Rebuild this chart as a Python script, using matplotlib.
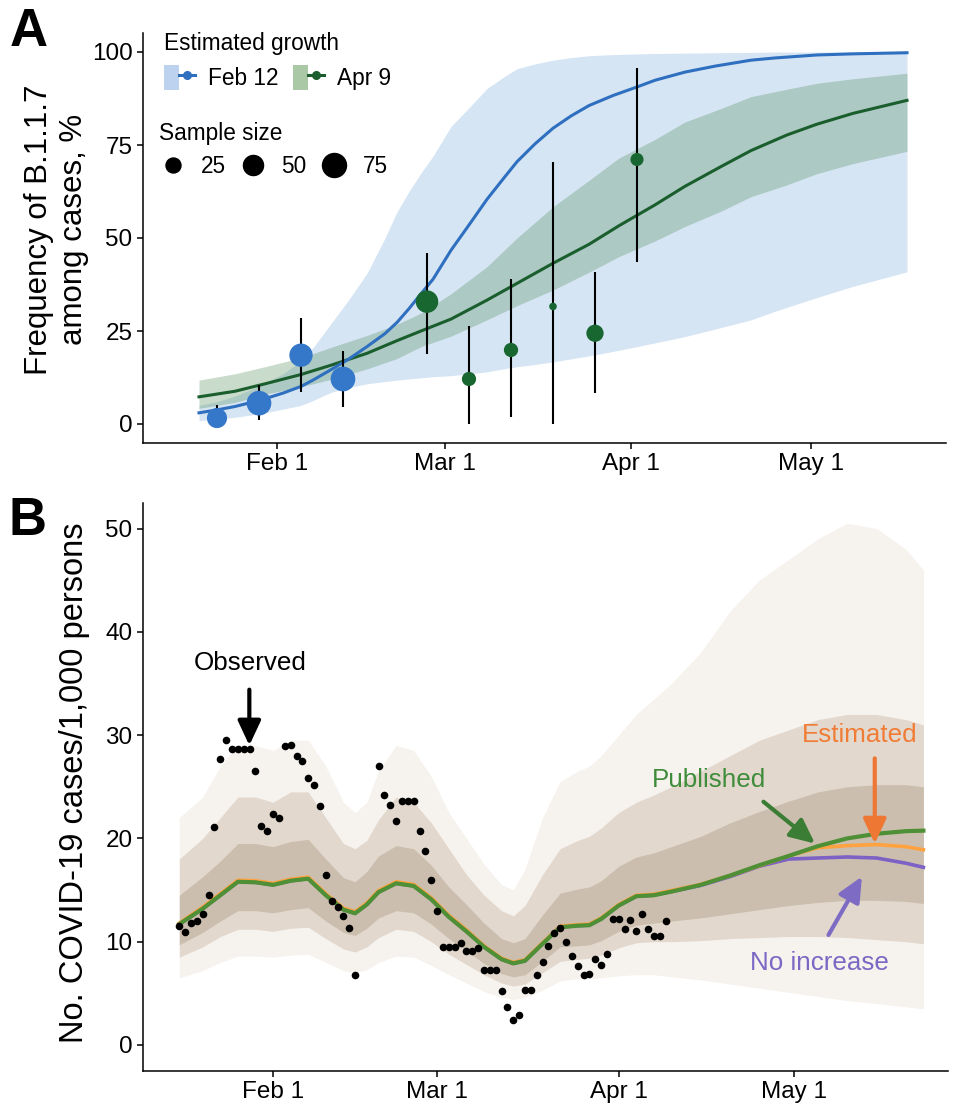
import matplotlib
matplotlib.use("Agg")
import matplotlib.pyplot as plt
from matplotlib.patches import Patch
from matplotlib.lines import Line2D
from matplotlib.legend_handler import HandlerTuple

plt.rcParams['font.family'] = ['Liberation Sans', 'DejaVu Sans']

# days are day-of-year 2021 (Feb 1 = 32)
tick_days = [32, 60, 91, 121]
tick_labels = ['Feb 1', 'Mar 1', 'Apr 1', 'May 1']

# ---------- panel A: frequency of B.1.1.7 ----------
feb12_days = [19, 22, 25, 28, 30, 33, 36, 38, 41, 44, 47, 50, 52, 54, 56, 58, 61, 64,
              67, 70, 72, 75, 78, 81, 84, 88, 92, 95, 100, 105, 111, 115, 122, 128, 137]
feb12_mid = [3.0, 3.8, 4.7, 5.9, 6.8, 8.3, 10.1, 11.8, 14.6, 17.5, 20.8, 24.3, 27.3, 31.0, 35.0, 38.9, 46.7, 53.5,
             60.4, 66.5, 70.5, 75.3, 79.5, 82.8, 85.6, 88.3, 90.6, 92.4, 94.6, 96.2, 97.8, 98.4, 99.2, 99.5, 99.8]
feb12_lo = [0.9, 1.3, 1.8, 2.5, 3.0, 4.0, 5.0, 6.3, 8.5, 9.8, 10.8, 11.4, 11.8, 12.1, 12.4, 12.7, 13.0, 13.5,
            14.0, 14.9, 15.4, 16.0, 16.7, 17.5, 18.3, 19.5, 20.8, 21.8, 23.5, 25.5, 28.0, 30.3, 34.0, 37.0, 40.9]
feb12_hi = [5.0, 6.0, 7.5, 9.5, 11.0, 13.5, 17.0, 20.5, 27.0, 33.5, 40.5, 50.0, 57.0, 62.5, 67.5, 72.0, 80.0, 85.0,
            90.2, 93.5, 95.5, 96.8, 97.8, 98.5, 99.0, 99.3, 99.5, 99.6, 99.7, 99.8, 99.9, 100, 100, 100, 100]

apr9_days = [19, 25, 30, 36, 41, 47, 52, 56, 61, 67, 72, 78, 84, 89, 95, 100, 106, 111, 117, 122, 128, 137]
apr9_mid = [7.3, 8.8, 10.8, 13.3, 15.8, 19.0, 22.4, 25.0, 28.2, 33.3, 37.8, 43.2, 48.3, 53.3, 58.9, 63.9, 69.2, 73.5, 77.7, 80.6, 83.5, 87.0]
apr9_lo = [4.2, 5.8, 8.0, 10.0, 12.0, 14.8, 17.6, 20.8, 23.6, 28.0, 31.8, 36.0, 40.8, 45.0, 49.2, 53.1, 57.2, 61.1, 64.3, 67.3, 70.0, 73.3]
apr9_hi = [11.8, 13.5, 15.4, 17.8, 20.6, 23.8, 26.8, 29.8, 35.0, 42.3, 50.0, 58.4, 65.5, 71.5, 76.5, 81.2, 84.8, 88.0, 90.0, 91.6, 92.8, 94.3]

obs_days = [22, 29, 36, 43, 57, 64, 71, 78, 85, 92]
obs_freq = [1.6, 5.6, 18.5, 12.1, 32.9, 12.1, 19.9, 31.6, 24.4, 71.1]
obs_lo = [0, 1.1, 8.7, 4.5, 18.8, 0, 2.0, 0, 8.3, 43.6]
obs_hi = [5.1, 10.5, 28.4, 19.7, 45.9, 26.3, 38.9, 70.5, 40.8, 95.6]
obs_n = [50, 80, 70, 80, 65, 22, 22, 4, 35, 18]
obs_group = ['Feb 12'] * 4 + ['Apr 9'] * 6

# ---------- panel B: cases per 1,000 ----------
case_days = list(range(16, 47)) + list(range(50, 100))
case_rate = [11.5, 10.9, 11.8, 12.0, 12.7, 14.5, 21.1, 27.7, 29.5, 28.65,
             28.65, 28.65, 28.65, 26.5, 21.2, 20.7, 22.4, 22.0, 28.9, 29.0,
             28.0, 27.5, 25.8, 25.2, 23.1, 16.5, 13.9, 13.4, 12.5, 11.3,
             6.8,
             27.0, 24.2, 23.2, 21.7, 23.65, 23.65, 23.65, 20.7, 18.8, 16.0,
             13.0, 9.5, 9.5, 9.45, 9.9, 9.1, 9.1, 9.35, 7.26, 7.26,
             7.26, 5.2, 3.7, 2.4, 2.9, 5.3, 5.3, 6.8, 8.0, 9.6,
             10.8, 11.3, 10.0, 8.6, 7.65, 6.8, 6.9, 8.3, 7.7, 8.8,
             12.2, 12.2, 11.2, 12.1, 11.0, 12.7, 11.2, 10.55, 10.55, 12.0]

sim_days = [16, 20, 23, 26, 29, 32, 35, 38, 41, 44,
            46, 48, 50, 53, 56, 59, 62, 65, 68, 71,
            73, 75, 78, 81, 84, 86, 88, 91, 94, 97,
            100, 105, 110, 115, 120, 125, 130, 135, 140, 143]
published = [11.7, 13.2, 14.5, 15.8, 15.75, 15.5, 15.9, 16.1, 14.5, 13.1,
             12.75, 13.6, 14.8, 15.65, 15.4, 14.1, 12.4, 11.0, 9.5, 8.3,
             7.9, 8.15, 9.8, 11.4, 11.55, 11.6, 12.2, 13.5, 14.4, 14.5,
             14.85, 15.5, 16.4, 17.4, 18.3, 19.25, 20.0, 20.45, 20.7, 20.75]
estimated = [11.8, 13.35, 14.65, 15.95, 15.9, 15.65, 16.05, 16.25, 14.65, 13.25,
             12.9, 13.75, 14.95, 15.8, 15.55, 14.25, 12.55, 11.15, 9.6, 8.4,
             8.0, 8.25, 9.9, 11.5, 11.65, 11.7, 12.3, 13.6, 14.5, 14.6,
             14.95, 15.55, 16.4, 17.35, 18.3, 19.1, 19.3, 19.4, 19.2, 18.9]
no_increase = [11.7, 13.2, 14.5, 15.8, 15.75, 15.5, 15.9, 16.1, 14.5, 13.1,
               12.75, 13.6, 14.8, 15.65, 15.4, 14.1, 12.4, 11.0, 9.5, 8.3,
               7.9, 8.15, 9.8, 11.4, 11.55, 11.6, 12.2, 13.5, 14.4, 14.5,
               14.85, 15.45, 16.3, 17.3, 18.0, 18.1, 18.2, 18.1, 17.6, 17.2]
# spread of the simulated trajectories: outer = faintest lines, inner = dense lines, core = darkest
sim_hi_outer = [22, 24, 27, 29, 29, 28.5, 29.5, 29.5, 27, 23.5,
                22.5, 23.5, 26.5, 29, 28.5, 26, 22.5, 20, 17.5, 15.5,
                15, 17, 22, 25.5, 26.5, 27, 28, 30, 32, 33.5,
                35, 38, 42, 45, 47, 49, 50.5, 50, 48, 46]
sim_hi_inner = [18, 20, 22, 24, 24, 23.5, 24.5, 24.5, 22, 19.5,
                19, 19.8, 21.8, 24, 23.5, 21.5, 19, 16.5, 14.5, 13,
                12.5, 13.5, 16.5, 19, 19.8, 20.2, 21, 22.5, 23.5, 24.2,
                25, 26.5, 28, 29.5, 30.5, 31.5, 32, 32, 31.5, 31]
sim_hi_core = [14.5, 16.3, 17.8, 19.5, 19.5, 19.2, 19.7, 19.9, 18, 16.2,
               15.8, 16.8, 18.3, 19.3, 19, 17.4, 15.3, 13.6, 11.8, 10.3,
               9.9, 10.3, 12.6, 14.7, 15.1, 15.3, 15.9, 17.3, 18.2, 18.6,
               19.2, 20.2, 21.5, 22.6, 23.6, 24.5, 25, 25.2, 25.2, 25]
sim_lo_core = [9.7, 10.9, 12, 13, 13, 12.8, 13.1, 13.3, 12, 10.9,
               10.6, 11.3, 12.3, 13, 12.8, 11.7, 10.3, 9.1, 7.9, 6.9,
               6.6, 6.8, 8.1, 9.5, 9.6, 9.7, 10.1, 11, 11.6, 11.8,
               12, 12.3, 12.7, 13.1, 13.5, 13.8, 14, 14, 13.9, 13.7]
sim_lo_inner = [8.5, 9.5, 10.5, 11.2, 11.2, 11, 11.3, 11.4, 10.3, 9.3,
                9, 9.5, 10.4, 11.2, 11, 10, 8.8, 7.8, 6.8, 6.0,
                5.7, 5.9, 7, 8.1, 8.3, 8.4, 8.7, 9.4, 9.9, 10,
                10, 10.1, 10.3, 10.4, 10.5, 10.5, 10.4, 10.2, 10, 9.8]
sim_lo_outer = [6.5, 7.2, 8, 8.6, 8.6, 8.5, 8.7, 8.8, 8, 7.2,
                7, 7.3, 8, 8.6, 8.5, 7.7, 6.8, 6, 5.2, 4.6,
                4.4, 4.6, 5.3, 6.2, 6.4, 6.4, 6.5, 6.7, 6.8, 6.8,
                6.6, 6.3, 5.9, 5.5, 5.1, 4.7, 4.3, 4.0, 3.7, 3.5]

W, H = 956, 1105
fig = plt.figure(figsize=(W / 100, H / 100), dpi=100)


def px_box(left, top, right, bottom):
    return [left / W, 1 - bottom / H, (right - left) / W, (bottom - top) / H]


def style(ax):
    for s in ['top', 'right']:
        ax.spines[s].set_visible(False)
    for s in ['left', 'bottom']:
        ax.spines[s].set_linewidth(1.1)
    ax.tick_params(length=4.5, width=1.1, labelsize=17.5, pad=3, colors='black')
    ax.set_xticks(tick_days)
    ax.set_xticklabels(tick_labels)


blue, blue_fill = '#2f6fbf', '#d6e5f4'
green, green_fill = '#1b5e2d', '#4d8a55'

# ---------- A ----------
axA = fig.add_axes(px_box(143, 33.4, 946, 442.6))
style(axA)
axA.fill_between(feb12_days, feb12_lo, feb12_hi, color=blue_fill, lw=0)
axA.fill_between(apr9_days, apr9_lo, apr9_hi, color=green_fill, alpha=0.3, lw=0)
axA.plot(apr9_days, apr9_mid, color=green, lw=2.2)
axA.plot(feb12_days, feb12_mid, color=blue, lw=2.2)
axA.vlines(obs_days, obs_lo, obs_hi, color='black', lw=1.5, zorder=3)
pt_colors = ['#3577c9' if g == 'Feb 12' else '#186630' for g in obs_group]
pt_sizes = [((2.7 + 2.46 * n ** 0.5) * 0.72) ** 2 for n in obs_n]
axA.scatter(obs_days, obs_freq, s=pt_sizes, c=pt_colors, lw=0, zorder=4)
axA.set_xlim(9.67, 143.5)
axA.set_ylim(-5, 105)
axA.set_yticks([0, 25, 50, 75, 100])
axA.set_ylabel('Frequency of B.1.1.7\namong cases, %', fontsize=22.5, linespacing=1.22)
axA.yaxis.label.set_va('center')
axA.yaxis.set_label_coords(-0.108, 0.52)

h_feb = (Patch(facecolor='#bcd2ee', edgecolor='none'),
         Line2D([], [], color=blue, lw=2.2, marker='o', markersize=5.5))
h_apr = (Patch(facecolor='#aac8a6', edgecolor='none'),
         Line2D([], [], color=green, lw=2.2, marker='o', markersize=5.5))
leg1 = axA.legend([h_feb, h_apr], ['Feb 12', 'Apr 9'], title='Estimated growth',
                  handler_map={tuple: HandlerTuple(ndivide=None)}, ncol=2,
                  loc='upper left', bbox_to_anchor=(0.026, 1.003), frameon=False,
                  fontsize=16.3, title_fontsize=16.3, alignment='left',
                  handlelength=1.37, handleheight=1.33, handletextpad=0.6,
                  columnspacing=0.6, labelspacing=0.45, borderpad=0, borderaxespad=0,
                  numpoints=1)
axA.add_artist(leg1)
size_handles = [Line2D([], [], ls='', marker='o', color='black',
                       markersize=(2.7 + 2.46 * n ** 0.5) * 0.72) for n in [25, 50, 75]]
axA.legend(size_handles, ['25', '50', '75'], title='Sample size', ncol=3,
           loc='upper left', bbox_to_anchor=(0.02, 0.784), frameon=False,
           fontsize=16.3, title_fontsize=16.3, alignment='left',
           handlelength=1.2, handletextpad=0.64, columnspacing=0.62,
           labelspacing=0.45, borderpad=0, borderaxespad=0, numpoints=1)

# ---------- B ----------
axB = fig.add_axes(px_box(143, 502.7, 948, 1070.8))
style(axB)
axB.fill_between(sim_days, sim_lo_outer, sim_hi_outer, color='#f6f2ee', lw=0)
axB.fill_between(sim_days, sim_lo_inner, sim_hi_inner, color='#e2d8cd', lw=0)
axB.fill_between(sim_days, sim_lo_core, sim_hi_core, color='#cbbeae', lw=0)
axB.plot(sim_days, no_increase, color='#7d62c6', lw=2.6)
axB.plot(sim_days, estimated, color='#ffa23f', lw=2.6)
axB.plot(sim_days, published, color='#4f8f36', lw=3.0)
axB.scatter(case_days, case_rate, s=30, color='black', lw=0, zorder=5)
axB.set_xlim(9.8, 147.2)
axB.set_ylim(-2.5, 52.5)
axB.set_yticks([0, 10, 20, 30, 40, 50])
axB.set_ylabel('No. COVID-19 cases/1,000 persons', fontsize=23.5)
axB.yaxis.label.set_va('center')
axB.yaxis.set_label_coords(-0.0845, 0.5066)

notes = [
    ('Observed', (28.1, 36.95), (27.95, 34.4), (27.95, 29.0), 'black', 'black'),
    ('Published', (106.4, 25.65), (115.7, 23.55), (124.5, 19.5), '#3f8c3a', '#3c7d35'),
    ('Estimated', (132.2, 30.0), (134.7, 27.75), (134.7, 19.5), '#f07c36', '#ee7733'),
    ('No increase', (125.2, 7.9), (126.8, 10.65), (132.5, 16.3), '#7b68c4', '#7e6bc4'),
]
for label, txy, tail, tip, tcol, acol in notes:
    axB.text(*txy, label, color=tcol, fontsize=18.7, ha='center', va='center')
    axB.annotate('', xy=tip, xytext=tail,
                 arrowprops=dict(arrowstyle='-|>,head_length=0.75,head_width=0.35',
                                 color=acol, lw=3, shrinkA=0, shrinkB=0,
                                 mutation_scale=20))

fig.text(29 / W, 1 - 32 / H, 'A', fontsize=38, fontweight='bold', ha='center', va='center')
fig.text(27 / W, 1 - 521 / H, 'B', fontsize=38, fontweight='bold', ha='center', va='center')

fig.savefig('out.png', dpi=100)
